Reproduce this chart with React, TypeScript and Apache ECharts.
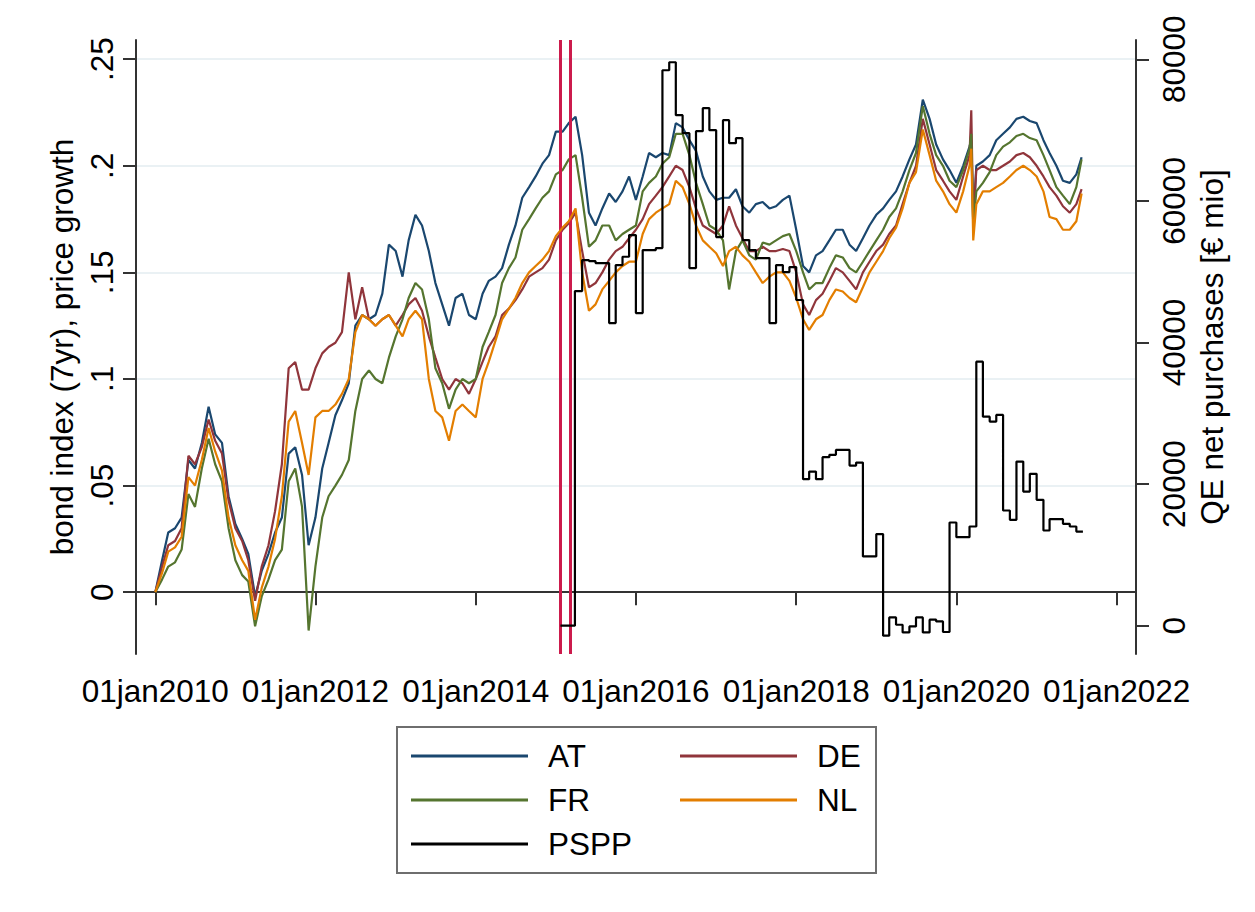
import React, { useEffect, useRef } from "react";
import * as echarts from "echarts";

// ---------- data ----------
const dates = [
  "2010-01-01","2010-02-01","2010-03-01","2010-04-01","2010-05-01","2010-06-01","2010-07-01","2010-08-01","2010-09-01","2010-10-01","2010-11-01","2010-12-01",
  "2011-01-01","2011-02-01","2011-03-01","2011-04-01","2011-05-01","2011-06-01","2011-07-01","2011-08-01","2011-09-01","2011-10-01","2011-11-01","2011-12-01",
  "2012-01-01","2012-02-01","2012-03-01","2012-04-01","2012-05-01","2012-06-01","2012-07-01","2012-08-01","2012-09-01","2012-10-01","2012-11-01","2012-12-01",
  "2013-01-01","2013-02-01","2013-03-01","2013-04-01","2013-05-01","2013-06-01","2013-07-01","2013-08-01","2013-09-01","2013-10-01","2013-11-01","2013-12-01",
  "2014-01-01","2014-02-01","2014-03-01","2014-04-01","2014-05-01","2014-06-01","2014-07-01","2014-08-01","2014-09-01","2014-10-01","2014-11-01","2014-12-01",
  "2015-01-01","2015-02-01","2015-03-01","2015-04-01","2015-05-01","2015-06-01","2015-07-01","2015-08-01","2015-09-01","2015-10-01","2015-11-01","2015-12-01",
  "2016-01-01","2016-02-01","2016-03-01","2016-04-01","2016-05-01","2016-06-01","2016-07-01","2016-08-01","2016-09-01","2016-10-01","2016-11-01","2016-12-01",
  "2017-01-01","2017-02-01","2017-03-01","2017-04-01","2017-05-01","2017-06-01","2017-07-01","2017-08-01","2017-09-01","2017-10-01","2017-11-01","2017-12-01",
  "2018-01-01","2018-02-01","2018-03-01","2018-04-01","2018-05-01","2018-06-01","2018-07-01","2018-08-01","2018-09-01","2018-10-01","2018-11-01","2018-12-01",
  "2019-01-01","2019-02-01","2019-03-01","2019-04-01","2019-05-01","2019-06-01","2019-07-01","2019-08-01","2019-09-01","2019-10-01","2019-11-01","2019-12-01",
  "2020-01-01","2020-02-01","2020-03-01","2020-03-09","2020-03-18","2020-04-01","2020-05-01","2020-06-01","2020-07-01","2020-08-01","2020-09-01","2020-10-01","2020-11-01","2020-12-01",
  "2021-01-01","2021-02-01","2021-03-01","2021-04-01","2021-05-01","2021-06-01","2021-07-01","2021-07-25",
];

const at = [
  0, 0.015, 0.028, 0.030, 0.035, 0.062, 0.058, 0.070, 0.087, 0.074, 0.070, 0.045,
  0.032, 0.025, 0.018, -0.002, 0.010, 0.018, 0.028, 0.035, 0.065, 0.068, 0.055, 0.022,
  0.035, 0.058, 0.070, 0.083, 0.090, 0.098, 0.125, 0.130, 0.128, 0.130, 0.140, 0.163,
  0.160, 0.148, 0.165, 0.177, 0.172, 0.160, 0.145, 0.135, 0.125, 0.138, 0.140, 0.130,
  0.128, 0.140, 0.146, 0.148, 0.152, 0.163, 0.172, 0.185, 0.190, 0.195, 0.201, 0.205,
  0.216, 0.216, 0.220, 0.223, 0.205, 0.178, 0.172, 0.180, 0.187, 0.183, 0.188, 0.195,
  0.184, 0.195, 0.206, 0.204, 0.206, 0.205, 0.220, 0.218, 0.212, 0.207, 0.195, 0.188,
  0.184, 0.185, 0.185, 0.189, 0.181, 0.178, 0.182, 0.183, 0.180, 0.181, 0.184, 0.186,
  0.170, 0.153, 0.150, 0.158, 0.160, 0.165, 0.170, 0.170, 0.163, 0.160, 0.166, 0.172,
  0.177, 0.180, 0.184, 0.188, 0.195, 0.203, 0.210, 0.231, 0.222, 0.210, 0.203, 0.198,
  0.192, 0.200, 0.209, 0.212, 0.172, 0.200, 0.202, 0.205, 0.212, 0.215, 0.218, 0.222, 0.223, 0.221,
  0.220, 0.212, 0.206, 0.200, 0.193, 0.192, 0.196, 0.204,
];

const de = [
  0, 0.012, 0.022, 0.024, 0.030, 0.064, 0.060, 0.068, 0.081, 0.071, 0.065, 0.043,
  0.030, 0.024, 0.015, -0.004, 0.012, 0.022, 0.038, 0.060, 0.105, 0.108, 0.095, 0.095,
  0.105, 0.112, 0.115, 0.117, 0.122, 0.150, 0.128, 0.143, 0.128, 0.125, 0.128, 0.130,
  0.125, 0.130, 0.135, 0.138, 0.132, 0.120, 0.110, 0.100, 0.095, 0.100, 0.098, 0.093,
  0.100, 0.108, 0.115, 0.120, 0.130, 0.133, 0.137, 0.142, 0.148, 0.150, 0.152, 0.156,
  0.165, 0.170, 0.173, 0.178, 0.160, 0.143, 0.145, 0.150, 0.156, 0.160, 0.162, 0.166,
  0.170, 0.175, 0.182, 0.186, 0.190, 0.195, 0.200, 0.198, 0.190, 0.180, 0.172, 0.170,
  0.168, 0.172, 0.181, 0.172, 0.166, 0.160, 0.160, 0.162, 0.160, 0.160, 0.161, 0.160,
  0.150, 0.135, 0.130, 0.137, 0.140, 0.146, 0.152, 0.150, 0.146, 0.142, 0.150, 0.155,
  0.160, 0.163, 0.168, 0.172, 0.182, 0.192, 0.200, 0.222, 0.210, 0.198, 0.193, 0.188,
  0.184, 0.195, 0.205, 0.226, 0.175, 0.198, 0.200, 0.198, 0.198, 0.200, 0.202, 0.205, 0.206, 0.204,
  0.200, 0.195, 0.190, 0.186, 0.181, 0.178, 0.182, 0.189,
];

const fr = [
  0, 0.006, 0.012, 0.014, 0.020, 0.046, 0.040, 0.058, 0.072, 0.060, 0.052, 0.030,
  0.015, 0.008, 0.005, -0.016, -0.002, 0.006, 0.015, 0.020, 0.052, 0.058, 0.040, -0.018,
  0.012, 0.035, 0.045, 0.050, 0.055, 0.062, 0.085, 0.100, 0.104, 0.100, 0.098, 0.110,
  0.120, 0.128, 0.138, 0.145, 0.142, 0.128, 0.105, 0.098, 0.086, 0.095, 0.100, 0.098,
  0.100, 0.115, 0.122, 0.130, 0.145, 0.152, 0.157, 0.170, 0.175, 0.180, 0.185, 0.188,
  0.196, 0.198, 0.203, 0.205, 0.185, 0.162, 0.165, 0.172, 0.172, 0.165, 0.168, 0.170,
  0.172, 0.188, 0.192, 0.195, 0.201, 0.204, 0.215, 0.215, 0.205, 0.192, 0.182, 0.172,
  0.170, 0.165, 0.142, 0.160, 0.165, 0.158, 0.156, 0.164, 0.163, 0.165, 0.167, 0.168,
  0.160, 0.150, 0.142, 0.145, 0.145, 0.152, 0.158, 0.157, 0.152, 0.150, 0.155, 0.160,
  0.165, 0.170, 0.176, 0.180, 0.188, 0.198, 0.206, 0.228, 0.215, 0.205, 0.200, 0.193,
  0.190, 0.198, 0.208, 0.215, 0.172, 0.188, 0.192, 0.197, 0.205, 0.209, 0.211, 0.214, 0.215, 0.213,
  0.212, 0.205, 0.198, 0.190, 0.186, 0.182, 0.190, 0.203,
];

const nl = [
  0, 0.009, 0.019, 0.021, 0.026, 0.054, 0.050, 0.062, 0.077, 0.066, 0.057, 0.035,
  0.022, 0.015, 0.010, -0.013, 0.002, 0.012, 0.025, 0.045, 0.080, 0.085, 0.070, 0.055,
  0.082, 0.085, 0.085, 0.088, 0.093, 0.100, 0.122, 0.130, 0.128, 0.125, 0.128, 0.130,
  0.125, 0.120, 0.128, 0.132, 0.128, 0.100, 0.085, 0.082, 0.071, 0.085, 0.088, 0.085,
  0.082, 0.100, 0.108, 0.118, 0.128, 0.133, 0.138, 0.145, 0.150, 0.153, 0.156, 0.160,
  0.167, 0.171, 0.174, 0.180, 0.150, 0.132, 0.135, 0.142, 0.146, 0.150, 0.153, 0.155,
  0.155, 0.168, 0.175, 0.178, 0.180, 0.182, 0.193, 0.190, 0.182, 0.172, 0.165, 0.162,
  0.159, 0.153, 0.160, 0.162, 0.158, 0.155, 0.150, 0.145, 0.148, 0.150, 0.150, 0.146,
  0.138, 0.128, 0.123, 0.128, 0.130, 0.137, 0.142, 0.141, 0.138, 0.136, 0.143, 0.150,
  0.155, 0.160, 0.166, 0.171, 0.180, 0.192, 0.197, 0.217, 0.205, 0.193, 0.188, 0.182,
  0.178, 0.188, 0.200, 0.208, 0.165, 0.182, 0.188, 0.188, 0.190, 0.192, 0.195, 0.198, 0.200, 0.198,
  0.195, 0.188, 0.176, 0.175, 0.170, 0.170, 0.174, 0.187,
];

const psppDates = [
  "2015-01-22","2015-03-29","2015-05-01","2015-06-01","2015-07-01","2015-08-01","2015-09-01","2015-10-01","2015-11-01","2015-12-01",
  "2016-01-01","2016-02-01","2016-03-01","2016-04-01","2016-05-01","2016-06-01","2016-07-01","2016-08-01","2016-09-01","2016-10-01","2016-11-01","2016-12-01",
  "2017-01-01","2017-02-01","2017-03-01","2017-04-01","2017-05-01","2017-06-01","2017-07-01","2017-08-01","2017-09-01","2017-10-01","2017-11-01","2017-12-01",
  "2018-01-01","2018-02-01","2018-03-01","2018-04-01","2018-05-01","2018-06-01","2018-07-01","2018-08-01","2018-09-01","2018-10-01","2018-11-01","2018-12-01",
  "2019-01-01","2019-02-01","2019-03-01","2019-04-01","2019-05-01","2019-06-01","2019-07-01","2019-08-01","2019-09-01","2019-10-01","2019-11-01","2019-12-01",
  "2020-01-01","2020-02-01","2020-03-01","2020-04-01","2020-05-01","2020-06-01","2020-07-01","2020-08-01","2020-09-01","2020-10-01","2020-11-01","2020-12-01",
  "2021-01-01","2021-02-01","2021-03-01","2021-04-01","2021-05-01","2021-06-01","2021-07-01","2021-07-31",
];

const pspp = [
  0, 47260, 51640, 51500, 51220, 51220, 42750, 50940, 52110, 55170,
  44160, 53050, 53050, 53340, 78450, 79580, 72100, 69560, 50510, 69840, 73090, 69990,
  54890, 71400, 68150, 68860, 54460, 53050, 51920, 51920, 42750, 50940, 49950, 50650,
  46000, 20700, 21770, 20700, 23800, 24130, 24830, 24830, 22620, 23040, 9780, 9780,
  12940, -1410, 1170, 140, -940, -100, 1170, -940, 850, 610, -890, 14580,
  12510, 12510, 14010, 37290, 29530, 28830, 29770, 16270, 14960, 23180, 18950, 21450,
  17780, 13450, 15050, 15050, 14390, 14010, 13300, 13300,
];

const eventDates = ["2015-01-22", "2015-03-09"];
const xTickDates = ["2010-01-01", "2012-01-01", "2014-01-01", "2016-01-01", "2018-01-01", "2020-01-01", "2022-01-01"];
const leftTicks = [0, 0.05, 0.1, 0.15, 0.2, 0.25];
const rightTicks = [0, 20000, 40000, 60000, 80000];
const seriesNames = ["AT", "DE", "FR", "NL", "PSPP"];

// ---------- helpers ----------
const ts = (s: string) => {
  const [y, m, d] = s.split("-").map(Number);
  return Date.UTC(y, m - 1, d || 1);
};
const FONT = '"Liberation Sans", Arial, Helvetica, sans-serif';
const AXIS = "#333333";
const COLORS: Record<string, string> = {
  AT: "#1a476f",
  DE: "#90353b",
  FR: "#55752f",
  NL: "#e37e00",
  PSPP: "#000000",
};

export default function App() {
  const ref = useRef<HTMLDivElement>(null);

  useEffect(() => {
    if (!ref.current) return;
    const chart = echarts.init(ref.current, undefined, { renderer: "svg" });
    const xTicks = xTickDates.map(ts);

    const bondSeries = (name: string, vals: number[], z: number) => ({
      name,
      type: "line",
      yAxisIndex: 0,
      data: dates.map((d, i) => [ts(d), vals[i]]),
      symbol: "none",
      showSymbol: false,
      z,
      lineStyle: { color: COLORS[name], width: 2.2 },
      itemStyle: { color: COLORS[name] },
      emphasis: { disabled: true },
    });

    const labelText = { fontSize: 31.5, color: "#000", fontFamily: FONT, lineHeight: 32 };

    const legendBase = {
      orient: "vertical",
      top: 740,
      icon: "rect",
      itemWidth: 117,
      itemHeight: 3,
      itemGap: 12,
      padding: 0,
      selectedMode: false,
      textStyle: { ...labelText, padding: [0, 0, 0, 15] },
    };

    const option: any = {
      animation: false,
      backgroundColor: "#ffffff",
      grid: { left: 136, top: 40, width: 1000, height: 614, containLabel: false },
      xAxis: {
        type: "value",
        min: ts("2009-10-05"),
        max: ts("2022-03-30"),
        axisLine: { show: true, lineStyle: { color: AXIS, width: 2 } },
        axisTick: { show: true, inside: false, length: 13, customValues: xTicks, lineStyle: { color: AXIS, width: 2 } },
        axisLabel: {
          ...labelText,
          customValues: xTicks,
          hideOverlap: false,
          margin: 21,
          formatter: (v: number) => "01jan" + new Date(v).getUTCFullYear(),
        },
        splitLine: { show: false },
      },
      yAxis: [
        {
          type: "value",
          position: "left",
          min: -0.029,
          max: 0.259,
          name: "bond index (7yr), price growth",
          nameLocation: "middle",
          nameGap: 58,
          nameMoveOverlap: false,
          nameTextStyle: { ...labelText },
          axisLine: { show: true, lineStyle: { color: AXIS, width: 2 } },
          axisTick: { show: true, inside: false, length: 13, customValues: leftTicks, lineStyle: { color: AXIS, width: 2 } },
          axisLabel: {
            ...labelText,
            customValues: leftTicks,
            rotate: 90,
            margin: 18,
            formatter: (v: number) => (Math.abs(v) < 1e-9 ? "0" : String(+v.toFixed(2)).replace(/^0\./, ".")),
          },
          splitLine: { show: true, lineStyle: { color: "#e3edf1", width: 1.5 } },
        },
        {
          type: "value",
          position: "right",
          min: -3994,
          max: 82724,
          name: "QE net purchases [€ mio]",
          nameLocation: "middle",
          nameGap: 60,
          nameMoveOverlap: false,
          nameTextStyle: { ...labelText },
          axisLine: { show: true, lineStyle: { color: AXIS, width: 2 } },
          axisTick: { show: true, inside: false, length: 13, customValues: rightTicks, lineStyle: { color: AXIS, width: 2 } },
          axisLabel: {
            ...labelText,
            customValues: rightTicks,
            rotate: 90,
            margin: 22,
            formatter: (v: number) => String(Math.round(v)),
          },
          splitLine: { show: false },
        },
      ],
      legend: [
        { ...legendBase, left: 411, data: [seriesNames[0], seriesNames[2], seriesNames[4]] },
        { ...legendBase, left: 680, data: [seriesNames[1], seriesNames[3]] },
      ],
      graphic: [
        {
          type: "rect",
          shape: { x: 397, y: 727, width: 479, height: 146 },
          style: { fill: "none", stroke: "#6e6e6e", lineWidth: 2 },
          silent: true,
        },
      ],
      series: [
        bondSeries("AT", at, 2),
        bondSeries("DE", de, 3),
        bondSeries("FR", fr, 4),
        bondSeries("NL", nl, 5),
        {
          name: "PSPP",
          type: "line",
          yAxisIndex: 1,
          step: "end",
          data: psppDates.map((d, i) => [ts(d), pspp[i]]),
          symbol: "none",
          showSymbol: false,
          z: 6,
          lineStyle: { color: COLORS.PSPP, width: 2.2 },
          itemStyle: { color: COLORS.PSPP },
          emphasis: { disabled: true },
          markLine: {
            silent: true,
            symbol: ["none", "none"],
            label: { show: false },
            lineStyle: { color: "#cc1b4c", width: 3, type: "solid" },
            data: eventDates.map((d) => ({ xAxis: ts(d) })),
          },
        },
      ],
    };

    chart.setOption(option);
    return () => chart.dispose();
  }, []);

  return (
    <div
      ref={ref}
      style={{ position: "absolute", left: 0, top: 0, width: 1255, height: 912, background: "#fff" }}
    />
  );
}
